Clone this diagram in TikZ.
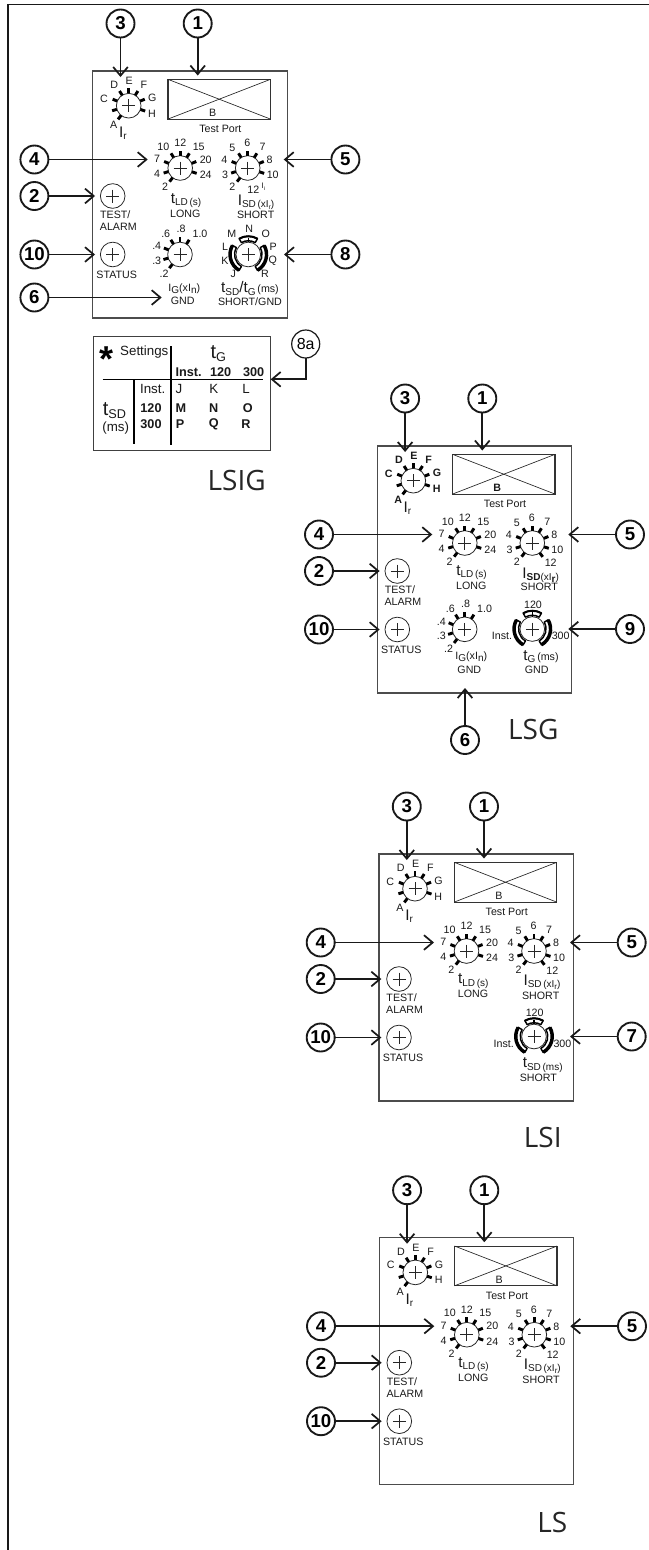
\documentclass[tikz,border=0pt]{standalone}
\usepackage{fontspec}
\setmainfont{Liberation Sans}
\newfontfamily\titlefont{Open Sans}
\usetikzlibrary{arrows.meta}
\newcommand{\labsize}{\fontsize{8}{9}\selectfont}
\newcommand{\lowtxt}[1]{\raisebox{-1.6pt}{\fontsize{7.5}{8}\selectfont #1}}
\newcommand{\bigt}[1]{{\fontsize{11.5}{12}\selectfont #1}}
\tikzset{
  panelbox/.style={draw=black!70,line width=.8pt,minimum width=146pt,minimum height=185.25pt,inner sep=0,outer sep=0},
  portbox/.style={draw=black!80,line width=.8pt,minimum width=76.8pt,minimum height=29.8pt,inner sep=0,outer sep=0},
  dialface/.style={circle,draw=black!85,fill=white,line width=.6pt,minimum size=18.5pt,inner sep=0,outer sep=0},
  dialtick/.style={line width=2.2pt,black},
  dialplus/.style={line width=.5pt,black!85},
  bandline/.style={draw=black,fill=white,line width=1.1pt,line join=round},
  marktext/.style={inner sep=0,text=black!90},
  tabletext/.style={inner sep=0,text=black!90,font=\fontsize{10}{11}\selectfont},
  numcirc/.style={circle,draw=black!90,fill=white,line width=1.4pt,minimum size=21pt,inner sep=0,outer sep=0,font=\bfseries\fontsize{14}{15}\selectfont},
  callout/.style={line width=1.3pt,black!90,-{Straight Barb[length=6.5pt,width=11pt,line width=1.3pt]}},
  titletext/.style={inner sep=0,font=\titlefont\fontsize{21}{22}\selectfont,text=black!85}
}
\newcommand{\dial}[3]{
  \node[dialface] (#1) at (#2) {};
  \draw[dialplus] (#1.center) ++(-6.5,0) -- ++(13,0);
  \draw[dialplus] (#1.center) ++(0,-6.5) -- ++(0,13);
  \foreach \a in {#3}
    \draw[dialtick] (#1.\a) -- ++(\a:3.75pt);
}
\newcommand{\dialmarks}[3][]{
  \foreach \t/\x/\y [count=\i] in {#3}
    \node[marktext,font=\labsize #1] (#2-\i) at (\x,\y) {\t};
}
\newcommand{\dialbands}[1]{
  \foreach \s/\e/\w in {60/120/1.5,150/240/2.6,30/-60/2.6}{
    \draw[bandline] (#1.center) ++(\s:10.3pt) arc[start angle=\s,end angle=\e,radius=10.3pt] -- ++(\e:3.4pt) arc[start angle=\e,end angle=\s,radius=13.7pt] -- cycle;
    \draw[line width=\w pt,black] (#1.center) ++(\s:13.7pt) arc[start angle=\s,end angle=\e,radius=13.7pt];
  }
  \draw[line width=1pt,black] (#1.90) -- ++(90:3.4pt);
}
\newcommand{\panelbase}[2][]{
  \node[panelbox] (box) at (97.3,123.5) {};
  \node[portbox] (port) at (126.5,28.2) {};
  \draw[line width=.5pt,black!85] (port.north west) -- (port.south east);
  \draw[line width=.5pt,black!85] (port.south west) -- (port.north east);
  \node[marktext,font=\labsize #1] (portb) at (120,42.3) {B};
  \node[marktext,font=\labsize] (porttext) at (127.7,58.3) {Test Port};
  \dial{irdial}{36,34.7}{232,197,158,122,90,58,22,-18}
  \dialmarks[#1]{irdial}{A/21/54,C/11.3/27.6,D/21.6/14.3,E/36.6/10.3,F/51.3/14.3,G/59.6/27.3,H/59.3/42.6}
  \node[marktext] (irtext) at (30.2,62.5) {\bigt{I}\lowtxt{r}};
  \dial{longdial}{87.5,97}{232,197,158,122,90,58,22,-18}
  \dialmarks{longdial}{2/72.3/116,4/64.3/103,7/64.3/88.3,10/70.6/75.6,12/87.6/72,15/106/75.6,20/113/88.6,24/113/104}
  \dial{shortdial}{155,97}{#2}
  \dialmarks{shortdial}{2/139.6/116,3/132.3/104,4/131.6/89.3,5/139.6/76.6,6/154.6/72.3,7/170/76,8/177/89.3,10/180/104}
  \dial{testdial}{20,125}{}
  \dial{statdial}{20,183.5}{}
  \node[marktext,font=\labsize] (testtext) at (22.6,143.5) {TEST/};
  \node[marktext,font=\labsize] (alarmtext) at (25.6,156) {ALARM};
  \node[marktext,font=\labsize] (stattext) at (24,204) {STATUS};
  \node[numcirc] (n3) at (27.8,-47.5) {3};
  \node[numcirc] (n1) at (105,-47.5) {1};
  \node[numcirc] (n4) at (-58.3,88.5) {4};
  \node[numcirc] (n5) at (252.7,88.5) {5};
  \node[numcirc] (n2) at (-58.3,125) {2};
  \node[numcirc] (n10) at (-58.3,183.5) {10};
  \coordinate (c3) at (27.8,6);
  \coordinate (c1) at (105,4.5);
  \coordinate (c4) at (55,88.5);
  \coordinate (c5) at (191,88.5);
  \draw[callout] (n3) -- (c3);
  \draw[callout] (n1) -- (c1);
  \draw[callout] (n4) -- (c4);
  \draw[callout] (n5) -- (c5);
  \draw[callout,shorten >=4pt] (n2) -- (testdial);
  \draw[callout,shorten >=4pt] (n10) -- (statdial);
}
\begin{document}
\begin{tikzpicture}[x=.75pt,y=-.75pt]
\useasboundingbox (0,0) rectangle (649,1550);
\draw[line width=.9pt,black!90] (649,4.7) -- (8,4.7) -- (8,1550);
\begin{scope}[shift={(92.7,71)},name prefix=lsig-]
\panelbase{232,197,158,122,90,58,22,-18}
\node[marktext,font=\labsize] (twelve) at (160.6,118.5) {12};
\node[marktext,font=\fontsize{6}{6}\selectfont] (twelvei) at (170.6,116) {I\lowtxt{\fontsize{4}{4}\selectfont i}};
\node[marktext,font=\labsize] (longtext) at (93.3,129.5) {\bigt{t}\lowtxt{LD\,(s)}};
\node[marktext,font=\labsize] (longname) at (92.6,143) {LONG};
\node[marktext,font=\labsize] (shorttext) at (163.3,131) {\bigt{I}\lowtxt{SD\,(xI\lowtxt{\fontsize{5}{5}\selectfont r})}};
\node[marktext,font=\labsize] (shortname) at (163,143.7) {SHORT};
\dial{gnddial}{87.3,183.5}{232,197,158,122,90,58}
\dialmarks{gnddial}{.2/71.3/202.5,.3/64/189.5,.4/64/175.2,.6/73/162.5,.8/88.3/157.5,1.0/107.3/162.5}
\node[marktext,font=\labsize] (gndtext) at (91.6,217.5) {I\lowtxt{G}(xI\lowtxt{n})};
\node[marktext,font=\labsize] (gndname) at (90,230) {GND};
\dial{setdial}{155.6,183.5}{}
\dialbands{setdial}
\dialmarks{setdial}{J/140.6/202.5,K/132.3/190.2,L/132.3/175.8,M/139/162.5,N/156.6/157.8,O/173/162.5,P/180.6/175.8,Q/180/190.2,R/172.3/202.5}
\node[marktext,font=\labsize] (settext) at (157.3,217.5) {\bigt{t}\lowtxt{SD}\bigt{/t}\lowtxt{G}\,(ms)};
\node[marktext,font=\labsize] (setname) at (157.3,230.8) {SHORT/GND};
\node[numcirc] (n6) at (-58.3,226.5) {6};
\node[numcirc] (n8) at (252.7,183.5) {8};
\coordinate (c6) at (69,226.5);
\coordinate (c8) at (191.3,183.5);
\draw[callout] (n6) -- (c6);
\draw[callout] (n8) -- (c8);
\end{scope}
\begin{scope}[name prefix=tab-]
\node[draw=black!75,line width=.8pt,minimum width=133pt,minimum height=85.2pt,inner sep=0,outer sep=0] (table) at (182,393.5) {};
\coordinate (r1) at (102.7,379.3);
\coordinate (r2) at (263.3,379.3);
\coordinate (v1) at (171,346);
\coordinate (v2) at (171,445);
\coordinate (v3) at (133.7,379.3);
\coordinate (v4) at (133.7,444);
\draw[line width=1.2pt] (r1) -- (r2);
\draw[line width=1.2pt] (v1) -- (v2);
\draw[line width=1.2pt] (v3) -- (v4);
\node[inner sep=0,font=\bfseries\fontsize{27}{27}\selectfont] (star) at (106.7,359) {*};
\node[tabletext] (settings) at (144.3,352.3) {Settings};
\node[tabletext] (tghead) at (218.3,353.5) {\fontsize{15}{15}\selectfont t\raisebox{-2pt}{\fontsize{9.5}{10}\selectfont G}};
\foreach \t/\x/\y [count=\i] in {Inst./188.7/371.7,120/220.7/371.7,300/253.7/371.7,120/151/408.3,300/151/424.3,M/181/408.3,N/213.7/408.3,O/247.7/408.3,P/180/424.3,Q/213.7/424.3,R/246/424.3}
  \node[tabletext,font=\bfseries\fontsize{9.5}{10}\selectfont] (bold-\i) at (\x,\y) {\t};
\foreach \t/\x/\y [count=\i] in {Inst./152.7/389,J/179/389,K/213.7/389,L/246/389}
  \node[tabletext] (row-\i) at (\x,\y) {\t};
\node[tabletext] (tsd) at (114.5,410.5) {\fontsize{15}{15}\selectfont t\raisebox{-2pt}{\fontsize{9.5}{10}\selectfont SD}};
\node[tabletext] (tsdms) at (115.7,428.3) {(ms)};
\node[circle,draw=black!90,fill=white,line width=.9pt,minimum size=21pt,inner sep=0,outer sep=0,font=\fontsize{12}{12}\selectfont] (n8a) at (305.7,344) {8a};
\draw[callout] (n8a) |- (table.east |- r1);
\end{scope}
\node[titletext] (lsigname) at (236.7,480) {LSIG};
\begin{scope}[shift={(377.3,446)},name prefix=lsg-]
\panelbase[\bfseries]{232,197,158,122,90,58,22,-18,-53}
\node[marktext,font=\labsize] (twelve) at (173.4,117) {12};
\node[marktext,font=\labsize] (longtext) at (94.3,127) {\bigt{t}\lowtxt{LD\,(s)}};
\node[marktext,font=\labsize] (longname) at (94,140) {LONG};
\node[marktext,font=\labsize] (shorttext) at (163.4,129) {\bigt{I}\lowtxt{\bfseries SD}\lowtxt{(xI\lowtxt{\bfseries r})}};
\node[marktext,font=\labsize] (shortname) at (162,140.7) {SHORT};
\dial{gnddial}{87.4,183.3}{232,197,158,122,90,58}
\dialmarks{gnddial}{.2/71.3/203,.3/64/190,.4/64/176,.6/73/162.5,.8/88.3/158,1.0/107.3/162.5}
\node[marktext,font=\labsize] (gndtext) at (94,211) {I\lowtxt{G}(xI\lowtxt{n})};
\node[marktext,font=\labsize] (gndname) at (92,224) {GND};
\dial{gdial}{155,183}{}
\dialbands{gdial}
\dialmarks{gdial}{120/155.7/159,Inst./124.7/189.7,300/183.4/189.7}
\node[marktext,font=\labsize] (gtext) at (163.7,210.7) {\bigt{t}\lowtxt{G}\,(ms)};
\node[marktext,font=\labsize] (gname) at (159.4,224) {GND};
\node[numcirc] (n6) at (87.7,294) {6};
\node[numcirc] (n9) at (252.7,183) {9};
\coordinate (c6) at (87.7,242);
\coordinate (c9) at (191,183);
\draw[callout] (n6) -- (c6);
\draw[callout] (n9) -- (c9);
\end{scope}
\node[titletext] (lsgname) at (533.3,729.3) {LSG};
\begin{scope}[shift={(379,854)},name prefix=lsi-]
\panelbase{232,197,158,122,90,58,22,-18,-53}
\node[marktext,font=\labsize] (twelve) at (173.4,117) {12};
\node[marktext,font=\labsize] (longtext) at (94.3,127) {\bigt{t}\lowtxt{LD\,(s)}};
\node[marktext,font=\labsize] (longname) at (94,140.3) {LONG};
\node[marktext,font=\labsize] (shorttext) at (163,128.3) {\bigt{I}\lowtxt{SD\,(xI\lowtxt{\fontsize{6}{6}\selectfont r})}};
\node[marktext,font=\labsize] (shortname) at (161.7,142) {SHORT};
\dial{sddial}{155,182.5}{}
\dialbands{sddial}
\dialmarks{sddial}{120/155.7/159,Inst./124.7/189.7,300/183.4/189.7}
\node[marktext,font=\labsize] (sdtext) at (163.7,211) {\bigt{t}\lowtxt{SD\,(ms)}};
\node[marktext,font=\labsize] (sdname) at (159.4,224) {SHORT};
\node[numcirc] (n7) at (252.7,182.5) {7};
\coordinate (c7) at (191,182.5);
\draw[callout] (n7) -- (c7);
\end{scope}
\node[titletext] (lsiname) at (542.7,1137.3) {LSI};
\begin{scope}[shift={(379.3,1237.7)},name prefix=ls-]
\panelbase{232,197,158,122,90,58,22,-18,-53}
\node[marktext,font=\labsize] (twelve) at (173.4,117) {12};
\node[marktext,font=\labsize] (longtext) at (94.3,127) {\bigt{t}\lowtxt{LD\,(s)}};
\node[marktext,font=\labsize] (longname) at (94,140.3) {LONG};
\node[marktext,font=\labsize] (shorttext) at (163,128.3) {\bigt{I}\lowtxt{SD\,(xI\lowtxt{\fontsize{6}{6}\selectfont r})}};
\node[marktext,font=\labsize] (shortname) at (161.7,142) {SHORT};
\end{scope}
\node[titletext] (lsname) at (552.3,1522.7) {LS};
\end{tikzpicture}
\end{document}
